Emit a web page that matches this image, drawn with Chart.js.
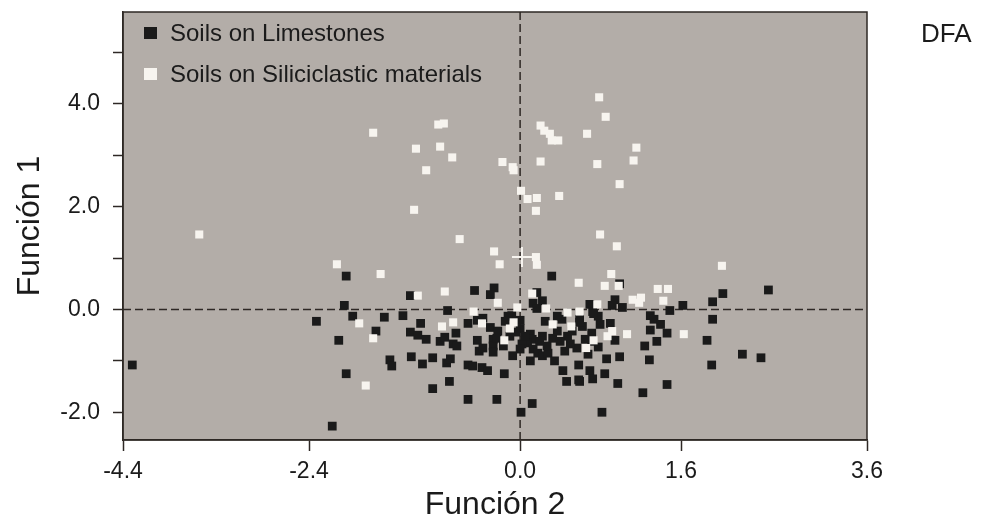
<!DOCTYPE html>
<html><head><meta charset="utf-8">
<script src="https://cdn.jsdelivr.net/npm/chart.js@4.4.0/dist/chart.umd.min.js"></script>
<style>
html,body{margin:0;padding:0;background:#fff;}
#wrap{position:relative;width:990px;height:524px;}
canvas{position:absolute;left:0;top:0;}
.lg{position:absolute;font-family:"Liberation Sans",Arial,sans-serif;color:#1b1b1b;font-size:24px;line-height:24px;white-space:nowrap;}
.sq{position:absolute;width:13px;height:12px;}
</style></head><body>
<div id="wrap">
<canvas id="c" width="990" height="524"></canvas>
<div class="sq" id="sq0" style="left:144px;top:27px;"></div>
<div class="lg" id="lg0" style="left:170px;top:21px"></div>
<div class="sq" id="sq1" style="left:144px;top:68px;"></div>
<div class="lg" id="lg1" style="left:170px;top:62px"></div>
<div class="lg" id="tag" style="left:921px;top:20px;font-size:26px;line-height:26px"></div>
</div>
<script>
// ---------- data ----------
const seriesNames = ['Soils on Limestones', 'Soils on Siliciclastic materials'];
const seriesColors = ['#1a1a1a', '#f7f4ef'];
const chartTag = 'DFA';
const xTitle = 'Función 2';
const yTitle = 'Función 1';

// [Función 2, Función 1]
const limestones = [
 [-4.30,-1.08],[-2.00,0.65],[-2.02,0.08],[-1.93,-0.13],[-2.32,-0.23],[-2.08,-0.60],[-2.00,-1.25],[-2.15,-2.27],[-1.59,-0.15],[-1.68,-0.42],
 [-1.31,0.27],[-1.39,-0.12],[-1.20,-0.27],[-0.91,-0.02],[-0.69,-0.27],[-0.59,-0.21],[-0.53,-0.17],[-0.62,0.37],[-0.41,0.42],[-0.45,0.29],
 [-1.31,-0.44],[-1.23,-0.50],[-1.14,-0.58],[-0.99,-0.62],[-0.94,-0.54],[-0.82,-0.46],[-0.85,-0.67],[-0.81,-0.71],[-0.59,-0.60],[-0.57,-0.81],
 [-1.53,-0.98],[-1.51,-1.10],[-1.30,-0.92],[-1.18,-1.06],[-1.07,-0.94],[-0.92,-1.04],[-0.88,-0.96],[-0.69,-1.08],[-0.64,-1.10],[-0.54,-1.13],
 [-0.48,-1.19],[-0.30,-1.25],[-0.89,-1.40],[-1.07,-1.54],[-0.69,-1.75],[-0.38,-1.75],[-0.12,-2.00],[0.00,-1.83],[0.21,0.65],[0.05,0.33],
 [0.11,0.17],[0.01,0.12],[0.05,0.02],[-0.22,-0.12],[-0.13,-0.21],[-0.45,-0.35],[-0.37,-0.42],[-0.42,-0.58],[-0.42,-0.71],[-0.53,-0.75],
 [-0.42,-0.83],[-0.13,-0.37],[-0.17,-0.44],[-0.02,-0.48],[0.00,-0.58],[-0.05,-0.65],[-0.11,-0.67],[-0.13,-0.77],[-0.21,-0.90],[0.01,-0.77],
 [0.06,-0.85],[0.11,-0.90],[0.17,-0.85],[0.16,-0.71],[0.11,-0.52],[0.22,-0.56],[0.27,-0.42],[0.32,-0.19],[0.38,-0.52],[0.43,-0.42],
 [0.27,-0.13],[0.51,-0.19],[0.54,-0.33],[0.62,0.10],[0.65,-0.04],[0.71,-0.13],[0.64,-0.46],[0.48,-0.75],[0.60,-0.87],[0.33,-1.19],
 [0.37,-1.40],[0.50,-1.08],[0.50,-1.37],[0.62,-1.19],[0.65,-1.35],[-0.26,-0.13],[-0.38,-0.56],
 [0.94,0.50],[0.89,0.19],[0.86,0.08],[0.97,0.04],[1.48,-0.02],[1.62,0.08],[1.94,0.15],[1.94,-0.19],[0.66,-0.08],
 [0.84,-0.27],[0.73,-0.29],[1.27,-0.12],[1.31,-0.19],[1.38,-0.29],[1.45,-0.46],[1.27,-0.40],[1.34,-0.62],[1.21,-0.71],[0.89,-0.60],
 [0.64,-0.62],[0.71,-0.73],[0.80,-0.96],[0.94,-0.92],[1.26,-0.98],[1.88,-0.60],[1.93,-1.08],[0.78,-1.25],[0.92,-1.44],[1.45,-1.46],
 [1.19,-1.62],[0.75,-2.00],[2.05,0.31],[2.54,0.38],[2.26,-0.87],[2.46,-0.94],[0.51,-1.40],[0.51,-0.25],
 [-0.29,-0.23],[-0.08,-0.52],[0.08,-0.62],[0.30,-0.62],[0.35,-0.81],[0.24,-1.00],[-0.02,-1.00],[-0.31,-0.71],[-0.24,-0.52],
 [0.14,-0.23],[0.57,-0.58],[0.41,-0.67]
];

const siliciclastic = [
 [-3.58,1.46],[-2.10,0.88],[-1.86,-0.27],[-1.79,-1.48],[-1.71,3.44],[-1.63,0.69],[-1.71,-0.56],[-1.27,1.94],[-1.25,3.13],[-1.14,2.71],
 [-1.01,3.60],[-0.95,3.62],[-0.99,3.17],[-0.86,2.96],[-0.78,1.37],[-0.41,1.13],[-0.35,0.88],[-0.32,2.87],[-0.21,2.77],[-0.20,2.71],
 [0.09,3.58],[0.13,3.48],[0.19,3.42],[0.21,3.29],[0.28,3.29],[0.09,2.88],[-0.12,2.31],[-0.05,2.15],[0.05,2.17],[0.29,2.21],
 [0.04,1.92],[0.04,1.02],[0.05,0.87],[-1.23,0.27],[-0.94,0.35],[-0.37,0.13],[-0.63,-0.04],[-0.85,-0.25],[-0.97,-0.33],[-0.54,-0.27],
 [-0.30,-0.60],[-0.24,-0.37],[-0.20,-0.25],[-0.16,0.04],[0.72,4.13],[0.79,3.75],[0.59,3.42],[1.12,3.15],[1.09,2.90],[0.70,2.83],
 [0.94,2.44],[0.73,1.46],[0.91,1.23],[0.85,0.69],[0.50,0.52],[0.78,0.46],[0.93,0.46],[1.35,0.40],[1.46,0.40],[2.04,0.85],
 [1.08,0.19],[1.17,0.23],[1.15,0.13],[1.41,0.17],[0.70,0.10],[0.51,-0.04],[0.38,-0.06],[0.15,0.02],[0.22,-0.29],[0.42,-0.33],
 [0.86,-0.42],[0.81,-0.52],[1.02,-0.48],[1.63,-0.48],[0.66,-0.60],[0.58,-0.75],[0.00,0.31]
];

const siliciclasticCentroid = [[-0.11,1.02]];

const X_MIN = -4.4, X_MAX = 3.6, Y_MIN = -2.54, Y_MAX = 5.79;
const xTickValues = [-4.4, -2.4, -0.13, 1.6, 3.6];
const xTickLabels = ['-4.4', '-2.4', '0.0', '1.6', '3.6'];
const yTickValues = [-2, -1, 0, 1, 2, 3, 4, 5];
const yTickLabels = ['-2.0', '', '0.0', '', '2.0', '', '4.0', ''];
const refX = -0.13, refY = 0;

// ---------- page text ----------
document.getElementById('lg0').textContent = seriesNames[0];
document.getElementById('lg1').textContent = seriesNames[1];
document.getElementById('sq0').style.background = seriesColors[0];
document.getElementById('sq1').style.background = seriesColors[1];
document.getElementById('tag').textContent = chartTag;

const FONT = '"Liberation Sans", Arial, sans-serif';
const INK = '#2e2825';
const toPts = arr => arr.map(p => ({x: p[0], y: p[1]}));

const frame = {
  id: 'frame',
  beforeDraw(chart) {
    const {ctx, chartArea: a} = chart;
    ctx.save();
    ctx.fillStyle = '#b3ada8';
    ctx.fillRect(a.left, a.top, a.right - a.left, a.bottom - a.top);
    ctx.restore();
  },
  afterDraw(chart) {
    const {ctx, chartArea: a} = chart;
    ctx.save();
    ctx.strokeStyle = INK;
    ctx.lineWidth = 1.5;
    ctx.strokeRect(a.left, a.top, a.right - a.left, a.bottom - a.top);
    ctx.restore();
  }
};

new Chart(document.getElementById('c'), {
  type: 'scatter',
  data: {
    datasets: [
      {label: 'ref-x', data: [{x: refX, y: Y_MIN}, {x: refX, y: Y_MAX}], showLine: true,
       borderColor: INK, borderWidth: 1.5, borderDash: [8, 4], pointRadius: 0, order: 5},
      {label: 'ref-y', data: [{x: X_MIN, y: refY}, {x: X_MAX, y: refY}], showLine: true,
       borderColor: INK, borderWidth: 1.5, borderDash: [8, 4], pointRadius: 0, order: 5},
      {label: seriesNames[0], data: toPts(limestones), pointStyle: 'rect', pointRadius: 6.2,
       backgroundColor: seriesColors[0], borderWidth: 0, order: 3},
      {label: seriesNames[1], data: toPts(siliciclastic), pointStyle: 'rect', pointRadius: 5.7,
       backgroundColor: seriesColors[1], borderWidth: 0, order: 2},
      {label: 'centroid', data: toPts(siliciclasticCentroid), pointStyle: 'cross', pointRadius: 10,
       borderColor: seriesColors[1], borderWidth: 2, order: 1}
    ]
  },
  options: {
    responsive: false,
    animation: false,
    devicePixelRatio: 1,
    layout: {padding: {left: 0, right: 123, top: 8, bottom: 0}},
    plugins: {legend: {display: false}, tooltip: {enabled: false}},
    scales: {
      x: {
        type: 'linear', position: 'bottom', min: X_MIN, max: X_MAX,
        afterBuildTicks: s => { s.ticks = xTickValues.map(v => ({value: v})); },
        afterFit: s => { s.height = 84; s.paddingLeft = 0; s.paddingRight = 0; },
        ticks: {callback: (v, i) => xTickLabels[i], font: {family: FONT, size: 23}, color: '#1b1b1b',
                padding: 7, maxRotation: 0, autoSkip: false},
        grid: {display: true, drawOnChartArea: false, drawTicks: true, tickLength: 11, tickWidth: 1.5, tickColor: INK},
        border: {display: true, color: INK, width: 1.5},
        title: {display: true, text: xTitle, font: {family: FONT, size: 32}, color: '#1b1b1b', padding: {top: 0, bottom: 0}}
      },
      y: {
        type: 'linear', position: 'left', min: Y_MIN, max: Y_MAX,
        afterBuildTicks: s => { s.ticks = yTickValues.map(v => ({value: v})); },
        afterFit: s => { s.width = 123; s.paddingTop = 0; s.paddingBottom = 0; },
        ticks: {callback: (v, i) => yTickLabels[i], font: {family: FONT, size: 23}, color: '#1b1b1b',
                padding: 13, autoSkip: false},
        grid: {display: true, drawOnChartArea: false, drawTicks: true, tickLength: 10, tickWidth: 1.5, tickColor: INK},
        border: {display: true, color: INK, width: 1.5},
        title: {display: true, text: yTitle, font: {family: FONT, size: 32}, color: '#1b1b1b', padding: {top: 11, bottom: 0}}
      }
    }
  },
  plugins: [frame]
});
</script>
</body></html>
